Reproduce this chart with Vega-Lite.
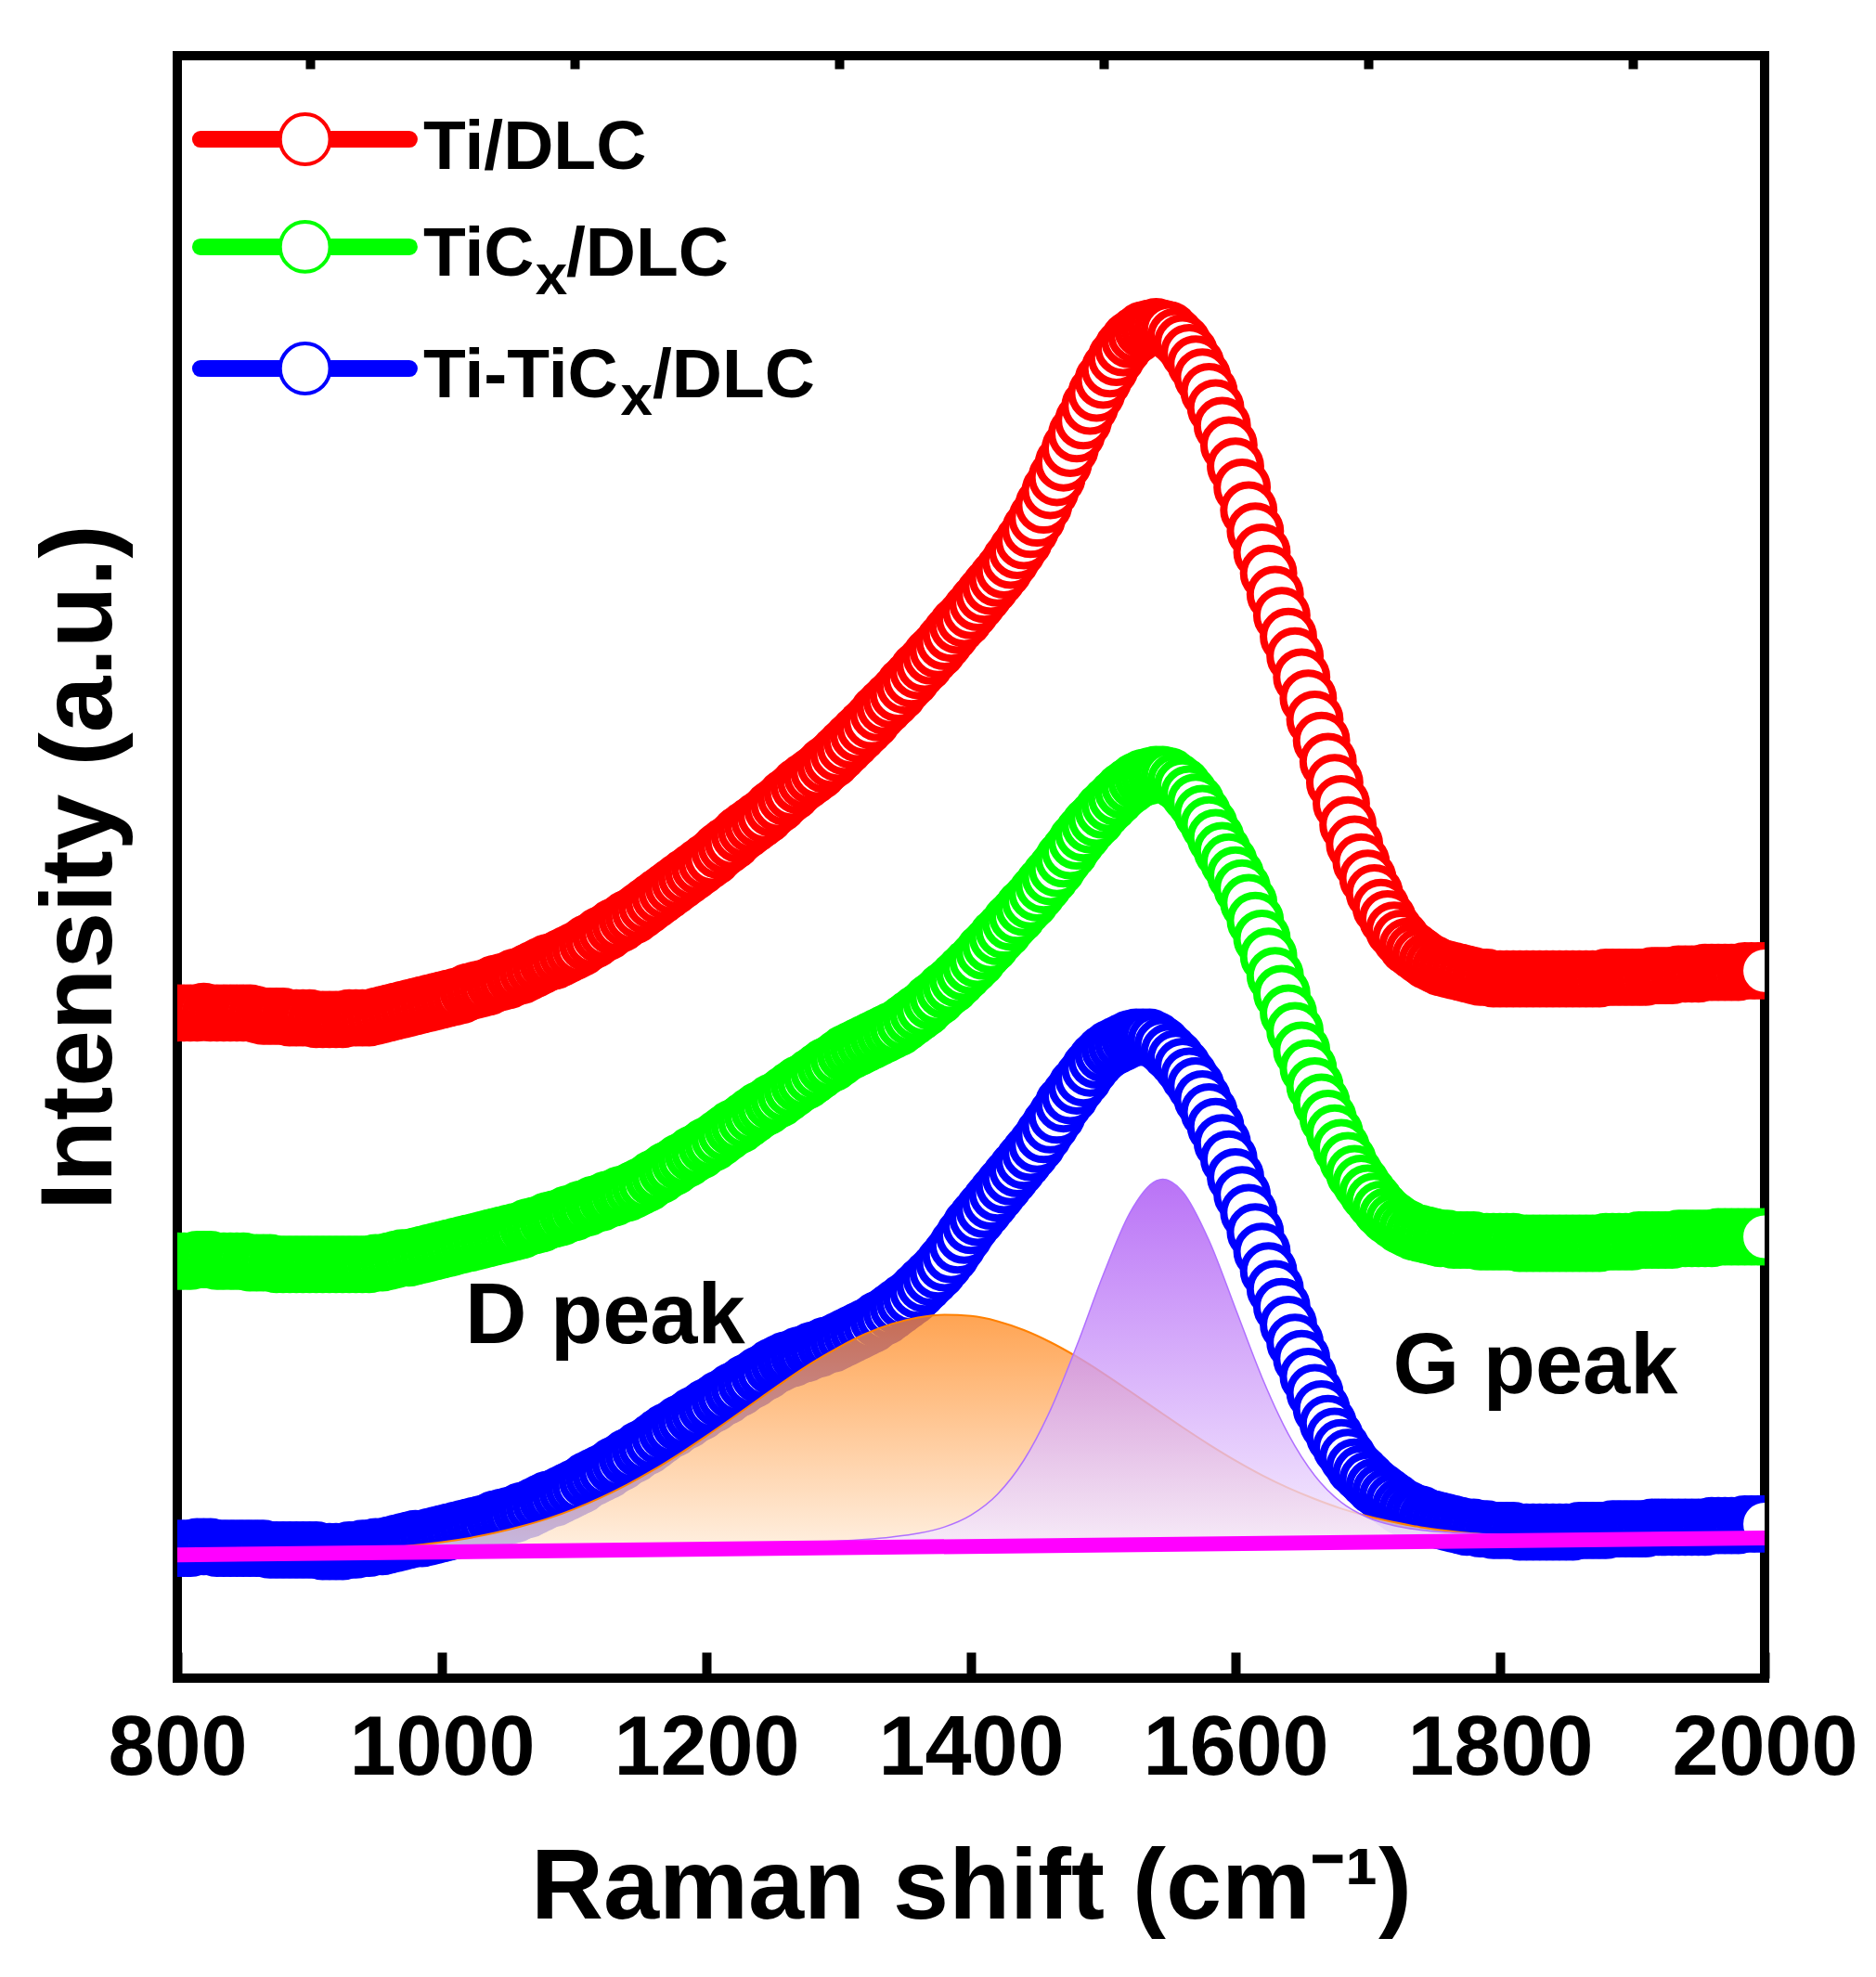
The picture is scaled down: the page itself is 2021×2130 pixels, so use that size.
{
  "$schema": "https://vega.github.io/schema/vega-lite/v6.json",
  "width": 1710,
  "height": 1748,
  "autosize": "none",
  "padding": {"left": 191, "top": 60, "right": 120, "bottom": 322},
  "background": "white",
  "config": {
    "view": {"stroke": "black", "strokeWidth": 10},
    "font": "Liberation Sans"
  },
  "datasets": {
    "red": [
      {"x":800,"y":41.0},{"x":805,"y":41.0},{"x":810,"y":41.0},{"x":815,"y":41.0},{"x":820,"y":41.1},{"x":825,"y":41.0},{"x":830,"y":41.0},{"x":835,"y":41.0},{"x":840,"y":41.0},{"x":845,"y":41.0},
      {"x":850,"y":41.0},{"x":855,"y":41.0},{"x":860,"y":40.9},{"x":865,"y":40.8},{"x":870,"y":40.8},{"x":875,"y":40.8},{"x":880,"y":40.8},{"x":885,"y":40.7},{"x":890,"y":40.7},{"x":895,"y":40.7},
      {"x":900,"y":40.7},{"x":905,"y":40.6},{"x":910,"y":40.6},{"x":915,"y":40.6},{"x":920,"y":40.6},{"x":925,"y":40.6},{"x":930,"y":40.7},{"x":935,"y":40.7},{"x":940,"y":40.7},{"x":945,"y":40.7},
      {"x":950,"y":40.8},{"x":955,"y":40.9},{"x":960,"y":41.0},{"x":965,"y":41.1},{"x":970,"y":41.2},{"x":975,"y":41.3},{"x":980,"y":41.4},{"x":985,"y":41.5},{"x":990,"y":41.6},{"x":995,"y":41.7},
      {"x":1000,"y":41.8},{"x":1005,"y":41.9},{"x":1010,"y":42.0},{"x":1015,"y":42.1},{"x":1020,"y":42.3},{"x":1025,"y":42.4},{"x":1030,"y":42.5},{"x":1035,"y":42.6},{"x":1040,"y":42.8},{"x":1045,"y":42.9},
      {"x":1050,"y":43.0},{"x":1055,"y":43.2},{"x":1060,"y":43.3},{"x":1065,"y":43.5},{"x":1070,"y":43.7},{"x":1075,"y":43.9},{"x":1080,"y":44.1},{"x":1085,"y":44.2},{"x":1090,"y":44.4},{"x":1095,"y":44.6},
      {"x":1100,"y":44.8},{"x":1105,"y":45.0},{"x":1110,"y":45.3},{"x":1115,"y":45.5},{"x":1120,"y":45.8},{"x":1125,"y":46.0},{"x":1130,"y":46.3},{"x":1135,"y":46.5},{"x":1140,"y":46.8},{"x":1145,"y":47.0},
      {"x":1150,"y":47.3},{"x":1155,"y":47.6},{"x":1160,"y":47.9},{"x":1165,"y":48.2},{"x":1170,"y":48.5},{"x":1175,"y":48.8},{"x":1180,"y":49.1},{"x":1185,"y":49.4},{"x":1190,"y":49.7},{"x":1195,"y":50.0},
      {"x":1200,"y":50.3},{"x":1205,"y":50.6},{"x":1210,"y":51.0},{"x":1215,"y":51.3},{"x":1220,"y":51.6},{"x":1225,"y":52.0},{"x":1230,"y":52.3},{"x":1235,"y":52.6},{"x":1240,"y":52.9},{"x":1245,"y":53.2},
      {"x":1250,"y":53.6},{"x":1255,"y":53.9},{"x":1260,"y":54.3},{"x":1265,"y":54.6},{"x":1270,"y":55.0},{"x":1275,"y":55.3},{"x":1280,"y":55.6},{"x":1285,"y":55.9},{"x":1290,"y":56.3},{"x":1295,"y":56.6},
      {"x":1300,"y":57.0},{"x":1305,"y":57.4},{"x":1310,"y":57.8},{"x":1315,"y":58.2},{"x":1320,"y":58.6},{"x":1325,"y":59.0},{"x":1330,"y":59.5},{"x":1335,"y":59.9},{"x":1340,"y":60.3},{"x":1345,"y":60.7},
      {"x":1350,"y":61.2},{"x":1355,"y":61.6},{"x":1360,"y":62.1},{"x":1365,"y":62.5},{"x":1370,"y":63.0},{"x":1375,"y":63.4},{"x":1380,"y":63.9},{"x":1385,"y":64.4},{"x":1390,"y":64.9},{"x":1395,"y":65.3},
      {"x":1400,"y":65.8},{"x":1405,"y":66.3},{"x":1410,"y":66.8},{"x":1415,"y":67.3},{"x":1420,"y":67.8},{"x":1425,"y":68.3},{"x":1430,"y":68.9},{"x":1435,"y":69.5},{"x":1440,"y":70.1},{"x":1445,"y":70.8},
      {"x":1450,"y":71.5},{"x":1455,"y":72.3},{"x":1460,"y":73.2},{"x":1465,"y":74.0},{"x":1470,"y":74.9},{"x":1475,"y":75.8},{"x":1480,"y":76.7},{"x":1485,"y":77.5},{"x":1490,"y":78.4},{"x":1495,"y":79.2},
      {"x":1500,"y":80.0},{"x":1505,"y":80.7},{"x":1510,"y":81.4},{"x":1515,"y":82.0},{"x":1520,"y":82.5},{"x":1525,"y":82.8},{"x":1530,"y":83.1},{"x":1535,"y":83.2},{"x":1540,"y":83.3},{"x":1545,"y":83.2},
      {"x":1550,"y":83.1},{"x":1555,"y":82.7},{"x":1560,"y":82.3},{"x":1565,"y":81.7},{"x":1570,"y":81.0},{"x":1575,"y":80.2},{"x":1580,"y":79.3},{"x":1585,"y":78.3},{"x":1590,"y":77.2},{"x":1595,"y":76.0},
      {"x":1600,"y":74.7},{"x":1605,"y":73.4},{"x":1610,"y":72.0},{"x":1615,"y":70.7},{"x":1620,"y":69.4},{"x":1625,"y":68.1},{"x":1630,"y":66.8},{"x":1635,"y":65.5},{"x":1640,"y":64.2},{"x":1645,"y":63.0},
      {"x":1650,"y":61.7},{"x":1655,"y":60.4},{"x":1660,"y":59.1},{"x":1665,"y":57.8},{"x":1670,"y":56.5},{"x":1675,"y":55.2},{"x":1680,"y":53.9},{"x":1685,"y":52.6},{"x":1690,"y":51.4},{"x":1695,"y":50.3},
      {"x":1700,"y":49.3},{"x":1705,"y":48.4},{"x":1710,"y":47.5},{"x":1715,"y":46.8},{"x":1720,"y":46.1},{"x":1725,"y":45.6},{"x":1730,"y":45.1},{"x":1735,"y":44.8},{"x":1740,"y":44.5},{"x":1745,"y":44.2},
      {"x":1750,"y":44.0},{"x":1755,"y":43.8},{"x":1760,"y":43.7},{"x":1765,"y":43.6},{"x":1770,"y":43.5},{"x":1775,"y":43.4},{"x":1780,"y":43.3},{"x":1785,"y":43.2},{"x":1790,"y":43.2},{"x":1795,"y":43.1},
      {"x":1800,"y":43.1},{"x":1805,"y":43.1},{"x":1810,"y":43.1},{"x":1815,"y":43.1},{"x":1820,"y":43.1},{"x":1825,"y":43.1},{"x":1830,"y":43.1},{"x":1835,"y":43.1},{"x":1840,"y":43.1},{"x":1845,"y":43.1},
      {"x":1850,"y":43.1},{"x":1855,"y":43.1},{"x":1860,"y":43.1},{"x":1865,"y":43.1},{"x":1870,"y":43.1},{"x":1875,"y":43.1},{"x":1880,"y":43.2},{"x":1885,"y":43.2},{"x":1890,"y":43.2},{"x":1895,"y":43.2},
      {"x":1900,"y":43.2},{"x":1905,"y":43.2},{"x":1910,"y":43.2},{"x":1915,"y":43.3},{"x":1920,"y":43.3},{"x":1925,"y":43.3},{"x":1930,"y":43.3},{"x":1935,"y":43.4},{"x":1940,"y":43.4},{"x":1945,"y":43.4},
      {"x":1950,"y":43.4},{"x":1955,"y":43.5},{"x":1960,"y":43.5},{"x":1965,"y":43.5},{"x":1970,"y":43.5},{"x":1975,"y":43.5},{"x":1980,"y":43.5},{"x":1985,"y":43.6},{"x":1990,"y":43.6},{"x":1995,"y":43.6},
      {"x":2000,"y":43.6}
    ],
    "green": [
      {"x":800,"y":25.7},{"x":805,"y":25.7},{"x":810,"y":25.7},{"x":815,"y":25.8},{"x":820,"y":25.8},{"x":825,"y":25.8},{"x":830,"y":25.7},{"x":835,"y":25.7},{"x":840,"y":25.7},{"x":845,"y":25.7},
      {"x":850,"y":25.7},{"x":855,"y":25.6},{"x":860,"y":25.6},{"x":865,"y":25.6},{"x":870,"y":25.6},{"x":875,"y":25.5},{"x":880,"y":25.5},{"x":885,"y":25.5},{"x":890,"y":25.5},{"x":895,"y":25.5},
      {"x":900,"y":25.5},{"x":905,"y":25.5},{"x":910,"y":25.5},{"x":915,"y":25.5},{"x":920,"y":25.5},{"x":925,"y":25.5},{"x":930,"y":25.5},{"x":935,"y":25.5},{"x":940,"y":25.5},{"x":945,"y":25.5},
      {"x":950,"y":25.6},{"x":955,"y":25.6},{"x":960,"y":25.7},{"x":965,"y":25.8},{"x":970,"y":25.9},{"x":975,"y":25.9},{"x":980,"y":26.0},{"x":985,"y":26.1},{"x":990,"y":26.2},{"x":995,"y":26.3},
      {"x":1000,"y":26.4},{"x":1005,"y":26.5},{"x":1010,"y":26.6},{"x":1015,"y":26.7},{"x":1020,"y":26.8},{"x":1025,"y":26.9},{"x":1030,"y":27.0},{"x":1035,"y":27.1},{"x":1040,"y":27.2},{"x":1045,"y":27.3},
      {"x":1050,"y":27.4},{"x":1055,"y":27.5},{"x":1060,"y":27.6},{"x":1065,"y":27.8},{"x":1070,"y":27.9},{"x":1075,"y":28.0},{"x":1080,"y":28.2},{"x":1085,"y":28.3},{"x":1090,"y":28.4},{"x":1095,"y":28.6},
      {"x":1100,"y":28.7},{"x":1105,"y":28.9},{"x":1110,"y":29.0},{"x":1115,"y":29.2},{"x":1120,"y":29.3},{"x":1125,"y":29.5},{"x":1130,"y":29.6},{"x":1135,"y":29.8},{"x":1140,"y":29.9},{"x":1145,"y":30.1},
      {"x":1150,"y":30.3},{"x":1155,"y":30.5},{"x":1160,"y":30.8},{"x":1165,"y":31.0},{"x":1170,"y":31.3},{"x":1175,"y":31.5},{"x":1180,"y":31.8},{"x":1185,"y":32.0},{"x":1190,"y":32.3},{"x":1195,"y":32.5},
      {"x":1200,"y":32.8},{"x":1205,"y":33.0},{"x":1210,"y":33.3},{"x":1215,"y":33.6},{"x":1220,"y":33.9},{"x":1225,"y":34.1},{"x":1230,"y":34.4},{"x":1235,"y":34.7},{"x":1240,"y":35.0},{"x":1245,"y":35.2},
      {"x":1250,"y":35.5},{"x":1255,"y":35.7},{"x":1260,"y":36.0},{"x":1265,"y":36.3},{"x":1270,"y":36.6},{"x":1275,"y":36.8},{"x":1280,"y":37.1},{"x":1285,"y":37.4},{"x":1290,"y":37.7},{"x":1295,"y":37.9},
      {"x":1300,"y":38.2},{"x":1305,"y":38.5},{"x":1310,"y":38.7},{"x":1315,"y":38.9},{"x":1320,"y":39.1},{"x":1325,"y":39.3},{"x":1330,"y":39.5},{"x":1335,"y":39.7},{"x":1340,"y":39.9},{"x":1345,"y":40.1},
      {"x":1350,"y":40.4},{"x":1355,"y":40.7},{"x":1360,"y":41.0},{"x":1365,"y":41.3},{"x":1370,"y":41.7},{"x":1375,"y":42.0},{"x":1380,"y":42.4},{"x":1385,"y":42.7},{"x":1390,"y":43.1},{"x":1395,"y":43.5},
      {"x":1400,"y":43.9},{"x":1405,"y":44.3},{"x":1410,"y":44.8},{"x":1415,"y":45.2},{"x":1420,"y":45.7},{"x":1425,"y":46.1},{"x":1430,"y":46.6},{"x":1435,"y":47.0},{"x":1440,"y":47.5},{"x":1445,"y":47.9},
      {"x":1450,"y":48.4},{"x":1455,"y":48.9},{"x":1460,"y":49.4},{"x":1465,"y":49.9},{"x":1470,"y":50.5},{"x":1475,"y":51.0},{"x":1480,"y":51.6},{"x":1485,"y":52.1},{"x":1490,"y":52.6},{"x":1495,"y":53.0},
      {"x":1500,"y":53.5},{"x":1505,"y":53.9},{"x":1510,"y":54.3},{"x":1515,"y":54.7},{"x":1520,"y":55.0},{"x":1525,"y":55.3},{"x":1530,"y":55.5},{"x":1535,"y":55.6},{"x":1540,"y":55.7},{"x":1545,"y":55.7},
      {"x":1550,"y":55.6},{"x":1555,"y":55.3},{"x":1560,"y":55.0},{"x":1565,"y":54.5},{"x":1570,"y":54.0},{"x":1575,"y":53.3},{"x":1580,"y":52.6},{"x":1585,"y":51.8},{"x":1590,"y":51.0},{"x":1595,"y":50.3},
      {"x":1600,"y":49.5},{"x":1605,"y":48.7},{"x":1610,"y":47.8},{"x":1615,"y":46.7},{"x":1620,"y":45.6},{"x":1625,"y":44.5},{"x":1630,"y":43.3},{"x":1635,"y":42.2},{"x":1640,"y":41.0},{"x":1645,"y":39.9},
      {"x":1650,"y":38.7},{"x":1655,"y":37.6},{"x":1660,"y":36.5},{"x":1665,"y":35.5},{"x":1670,"y":34.5},{"x":1675,"y":33.6},{"x":1680,"y":32.7},{"x":1685,"y":31.9},{"x":1690,"y":31.1},{"x":1695,"y":30.5},
      {"x":1700,"y":29.9},{"x":1705,"y":29.4},{"x":1710,"y":28.9},{"x":1715,"y":28.5},{"x":1720,"y":28.2},{"x":1725,"y":27.9},{"x":1730,"y":27.7},{"x":1735,"y":27.5},{"x":1740,"y":27.4},{"x":1745,"y":27.3},
      {"x":1750,"y":27.2},{"x":1755,"y":27.1},{"x":1760,"y":27.1},{"x":1765,"y":27.0},{"x":1770,"y":27.0},{"x":1775,"y":27.0},{"x":1780,"y":27.0},{"x":1785,"y":26.9},{"x":1790,"y":26.9},{"x":1795,"y":26.9},
      {"x":1800,"y":26.9},{"x":1805,"y":26.9},{"x":1810,"y":26.9},{"x":1815,"y":26.8},{"x":1820,"y":26.8},{"x":1825,"y":26.8},{"x":1830,"y":26.8},{"x":1835,"y":26.8},{"x":1840,"y":26.8},{"x":1845,"y":26.8},
      {"x":1850,"y":26.8},{"x":1855,"y":26.8},{"x":1860,"y":26.8},{"x":1865,"y":26.8},{"x":1870,"y":26.8},{"x":1875,"y":26.8},{"x":1880,"y":26.9},{"x":1885,"y":26.9},{"x":1890,"y":26.9},{"x":1895,"y":26.9},
      {"x":1900,"y":26.9},{"x":1905,"y":27.0},{"x":1910,"y":27.0},{"x":1915,"y":27.0},{"x":1920,"y":27.0},{"x":1925,"y":27.0},{"x":1930,"y":27.0},{"x":1935,"y":27.1},{"x":1940,"y":27.1},{"x":1945,"y":27.1},
      {"x":1950,"y":27.1},{"x":1955,"y":27.1},{"x":1960,"y":27.1},{"x":1965,"y":27.2},{"x":1970,"y":27.2},{"x":1975,"y":27.2},{"x":1980,"y":27.2},{"x":1985,"y":27.2},{"x":1990,"y":27.2},{"x":1995,"y":27.2},
      {"x":2000,"y":27.2}
    ],
    "blue": [
      {"x":800,"y":8.0},{"x":805,"y":8.0},{"x":810,"y":8.0},{"x":815,"y":8.1},{"x":820,"y":8.1},{"x":825,"y":8.1},{"x":830,"y":8.0},{"x":835,"y":8.0},{"x":840,"y":8.0},{"x":845,"y":8.0},
      {"x":850,"y":8.0},{"x":855,"y":8.0},{"x":860,"y":8.0},{"x":865,"y":8.0},{"x":870,"y":7.9},{"x":875,"y":7.9},{"x":880,"y":7.9},{"x":885,"y":7.9},{"x":890,"y":7.9},{"x":895,"y":7.9},
      {"x":900,"y":7.9},{"x":905,"y":7.9},{"x":910,"y":7.8},{"x":915,"y":7.8},{"x":920,"y":7.8},{"x":925,"y":7.8},{"x":930,"y":7.9},{"x":935,"y":7.9},{"x":940,"y":8.0},{"x":945,"y":8.0},
      {"x":950,"y":8.1},{"x":955,"y":8.1},{"x":960,"y":8.2},{"x":965,"y":8.3},{"x":970,"y":8.4},{"x":975,"y":8.5},{"x":980,"y":8.6},{"x":985,"y":8.6},{"x":990,"y":8.7},{"x":995,"y":8.8},
      {"x":1000,"y":8.9},{"x":1005,"y":9.0},{"x":1010,"y":9.1},{"x":1015,"y":9.2},{"x":1020,"y":9.3},{"x":1025,"y":9.4},{"x":1030,"y":9.5},{"x":1035,"y":9.6},{"x":1040,"y":9.8},{"x":1045,"y":9.9},
      {"x":1050,"y":10.0},{"x":1055,"y":10.1},{"x":1060,"y":10.3},{"x":1065,"y":10.4},{"x":1070,"y":10.6},{"x":1075,"y":10.8},{"x":1080,"y":11.0},{"x":1085,"y":11.1},{"x":1090,"y":11.3},{"x":1095,"y":11.5},
      {"x":1100,"y":11.7},{"x":1105,"y":11.9},{"x":1110,"y":12.2},{"x":1115,"y":12.4},{"x":1120,"y":12.6},{"x":1125,"y":12.8},{"x":1130,"y":13.1},{"x":1135,"y":13.3},{"x":1140,"y":13.6},{"x":1145,"y":13.8},
      {"x":1150,"y":14.1},{"x":1155,"y":14.3},{"x":1160,"y":14.6},{"x":1165,"y":14.9},{"x":1170,"y":15.2},{"x":1175,"y":15.4},{"x":1180,"y":15.7},{"x":1185,"y":15.9},{"x":1190,"y":16.2},{"x":1195,"y":16.4},
      {"x":1200,"y":16.7},{"x":1205,"y":16.9},{"x":1210,"y":17.2},{"x":1215,"y":17.4},{"x":1220,"y":17.7},{"x":1225,"y":17.9},{"x":1230,"y":18.2},{"x":1235,"y":18.4},{"x":1240,"y":18.7},{"x":1245,"y":18.9},
      {"x":1250,"y":19.2},{"x":1255,"y":19.4},{"x":1260,"y":19.6},{"x":1265,"y":19.7},{"x":1270,"y":19.9},{"x":1275,"y":20.0},{"x":1280,"y":20.2},{"x":1285,"y":20.3},{"x":1290,"y":20.5},{"x":1295,"y":20.6},
      {"x":1300,"y":20.8},{"x":1305,"y":21.0},{"x":1310,"y":21.2},{"x":1315,"y":21.4},{"x":1320,"y":21.6},{"x":1325,"y":21.8},{"x":1330,"y":22.1},{"x":1335,"y":22.3},{"x":1340,"y":22.6},{"x":1345,"y":22.9},
      {"x":1350,"y":23.2},{"x":1355,"y":23.5},{"x":1360,"y":23.9},{"x":1365,"y":24.3},{"x":1370,"y":24.7},{"x":1375,"y":25.1},{"x":1380,"y":25.6},{"x":1385,"y":26.1},{"x":1390,"y":26.7},{"x":1395,"y":27.3},
      {"x":1400,"y":27.9},{"x":1405,"y":28.4},{"x":1410,"y":28.9},{"x":1415,"y":29.4},{"x":1420,"y":29.9},{"x":1425,"y":30.4},{"x":1430,"y":30.9},{"x":1435,"y":31.4},{"x":1440,"y":31.9},{"x":1445,"y":32.4},
      {"x":1450,"y":32.9},{"x":1455,"y":33.5},{"x":1460,"y":34.1},{"x":1465,"y":34.7},{"x":1470,"y":35.4},{"x":1475,"y":35.9},{"x":1480,"y":36.5},{"x":1485,"y":37.0},{"x":1490,"y":37.6},{"x":1495,"y":38.1},
      {"x":1500,"y":38.5},{"x":1505,"y":38.8},{"x":1510,"y":39.0},{"x":1515,"y":39.2},{"x":1520,"y":39.4},{"x":1525,"y":39.5},{"x":1530,"y":39.5},{"x":1535,"y":39.5},{"x":1540,"y":39.3},{"x":1545,"y":39.0},
      {"x":1550,"y":38.6},{"x":1555,"y":38.2},{"x":1560,"y":37.7},{"x":1565,"y":37.1},{"x":1570,"y":36.5},{"x":1575,"y":35.7},{"x":1580,"y":34.9},{"x":1585,"y":34.0},{"x":1590,"y":33.0},{"x":1595,"y":32.0},
      {"x":1600,"y":30.9},{"x":1605,"y":29.8},{"x":1610,"y":28.7},{"x":1615,"y":27.5},{"x":1620,"y":26.3},{"x":1625,"y":25.1},{"x":1630,"y":24.0},{"x":1635,"y":22.9},{"x":1640,"y":21.8},{"x":1645,"y":20.7},
      {"x":1650,"y":19.7},{"x":1655,"y":18.6},{"x":1660,"y":17.6},{"x":1665,"y":16.6},{"x":1670,"y":15.7},{"x":1675,"y":14.9},{"x":1680,"y":14.2},{"x":1685,"y":13.6},{"x":1690,"y":13.0},{"x":1695,"y":12.6},
      {"x":1700,"y":12.2},{"x":1705,"y":11.8},{"x":1710,"y":11.5},{"x":1715,"y":11.2},{"x":1720,"y":10.9},{"x":1725,"y":10.6},{"x":1730,"y":10.4},{"x":1735,"y":10.2},{"x":1740,"y":10.1},{"x":1745,"y":9.9},
      {"x":1750,"y":9.8},{"x":1755,"y":9.7},{"x":1760,"y":9.6},{"x":1765,"y":9.5},{"x":1770,"y":9.4},{"x":1775,"y":9.3},{"x":1780,"y":9.3},{"x":1785,"y":9.2},{"x":1790,"y":9.2},{"x":1795,"y":9.1},
      {"x":1800,"y":9.1},{"x":1805,"y":9.1},{"x":1810,"y":9.1},{"x":1815,"y":9.0},{"x":1820,"y":9.0},{"x":1825,"y":9.0},{"x":1830,"y":9.0},{"x":1835,"y":9.0},{"x":1840,"y":9.0},{"x":1845,"y":9.0},
      {"x":1850,"y":9.0},{"x":1855,"y":9.0},{"x":1860,"y":9.1},{"x":1865,"y":9.1},{"x":1870,"y":9.1},{"x":1875,"y":9.1},{"x":1880,"y":9.1},{"x":1885,"y":9.2},{"x":1890,"y":9.2},{"x":1895,"y":9.2},
      {"x":1900,"y":9.2},{"x":1905,"y":9.2},{"x":1910,"y":9.2},{"x":1915,"y":9.3},{"x":1920,"y":9.3},{"x":1925,"y":9.3},{"x":1930,"y":9.3},{"x":1935,"y":9.3},{"x":1940,"y":9.3},{"x":1945,"y":9.3},
      {"x":1950,"y":9.3},{"x":1955,"y":9.3},{"x":1960,"y":9.4},{"x":1965,"y":9.4},{"x":1970,"y":9.4},{"x":1975,"y":9.4},{"x":1980,"y":9.4},{"x":1985,"y":9.5},{"x":1990,"y":9.5},{"x":1995,"y":9.5},
      {"x":2000,"y":9.5}
    ],
    "dpeak": [
      {"x":800,"y":7.61,"lo":7.60},{"x":820,"y":7.64,"lo":7.62},{"x":840,"y":7.66,"lo":7.63},{"x":860,"y":7.69,"lo":7.65},{"x":880,"y":7.73,"lo":7.67},
      {"x":900,"y":7.78,"lo":7.69},{"x":920,"y":7.84,"lo":7.70},{"x":940,"y":7.93,"lo":7.72},{"x":960,"y":8.04,"lo":7.74},{"x":980,"y":8.19,"lo":7.76},
      {"x":1000,"y":8.38,"lo":7.77},{"x":1020,"y":8.63,"lo":7.79},{"x":1040,"y":8.95,"lo":7.81},{"x":1060,"y":9.35,"lo":7.83},{"x":1080,"y":9.83,"lo":7.84},
      {"x":1100,"y":10.42,"lo":7.86},{"x":1120,"y":11.12,"lo":7.88},{"x":1140,"y":11.92,"lo":7.89},{"x":1160,"y":12.83,"lo":7.91},{"x":1180,"y":13.84,"lo":7.93},
      {"x":1200,"y":14.93,"lo":7.95},{"x":1220,"y":16.06,"lo":7.96},{"x":1240,"y":17.22,"lo":7.98},{"x":1260,"y":18.36,"lo":8.00},{"x":1280,"y":19.44,"lo":8.02},
      {"x":1300,"y":20.39,"lo":8.03},{"x":1320,"y":21.21,"lo":8.05},{"x":1340,"y":21.83,"lo":8.07},{"x":1360,"y":22.23,"lo":8.08},{"x":1380,"y":22.40,"lo":8.10},
      {"x":1400,"y":22.32,"lo":8.12},{"x":1420,"y":22.00,"lo":8.14},{"x":1440,"y":21.45,"lo":8.15},{"x":1460,"y":20.71,"lo":8.17},{"x":1480,"y":19.81,"lo":8.19},
      {"x":1500,"y":18.79,"lo":8.21},{"x":1520,"y":17.69,"lo":8.22},{"x":1540,"y":16.57,"lo":8.24},{"x":1560,"y":15.46,"lo":8.26},{"x":1580,"y":14.40,"lo":8.28},
      {"x":1600,"y":13.41,"lo":8.29},{"x":1620,"y":12.51,"lo":8.31},{"x":1640,"y":11.72,"lo":8.33},{"x":1660,"y":11.04,"lo":8.35},{"x":1680,"y":10.45,"lo":8.36},
      {"x":1700,"y":9.98,"lo":8.38},{"x":1720,"y":9.61,"lo":8.40},{"x":1740,"y":9.30,"lo":8.41},{"x":1760,"y":9.08,"lo":8.43},{"x":1780,"y":8.91,"lo":8.45},
      {"x":1800,"y":8.80,"lo":8.47},{"x":1820,"y":8.70,"lo":8.48},{"x":1840,"y":8.65,"lo":8.50},{"x":1860,"y":8.62,"lo":8.52},{"x":1880,"y":8.61,"lo":8.54},
      {"x":1900,"y":8.59,"lo":8.55},{"x":1920,"y":8.60,"lo":8.57},{"x":1940,"y":8.61,"lo":8.59},{"x":1960,"y":8.62,"lo":8.61},{"x":1980,"y":8.63,"lo":8.62},
      {"x":2000,"y":8.64,"lo":8.64}
    ],
    "gpeak": [
      {"x":800,"y":7.65,"lo":7.60},{"x":900,"y":7.76,"lo":7.69},{"x":1000,"y":7.86,"lo":7.77},{"x":1100,"y":8.00,"lo":7.86},{"x":1200,"y":8.17,"lo":7.95},
      {"x":1240,"y":8.26,"lo":7.98},{"x":1280,"y":8.39,"lo":8.02},{"x":1300,"y":8.45,"lo":8.03},{"x":1320,"y":8.55,"lo":8.05},{"x":1340,"y":8.70,"lo":8.07},
      {"x":1360,"y":8.92,"lo":8.08},{"x":1380,"y":9.32,"lo":8.10},{"x":1400,"y":10.05,"lo":8.12},{"x":1420,"y":11.33,"lo":8.14},{"x":1440,"y":13.43,"lo":8.15},
      {"x":1460,"y":16.51,"lo":8.17},{"x":1480,"y":20.49,"lo":8.19},{"x":1500,"y":24.86,"lo":8.21},{"x":1520,"y":28.66,"lo":8.22},{"x":1540,"y":30.65,"lo":8.24},
      {"x":1545,"y":30.75,"lo":8.25},{"x":1560,"y":29.98,"lo":8.26},{"x":1580,"y":26.97,"lo":8.28},{"x":1600,"y":22.77,"lo":8.29},{"x":1620,"y":18.54,"lo":8.31},
      {"x":1640,"y":15.02,"lo":8.33},{"x":1660,"y":12.47,"lo":8.35},{"x":1680,"y":10.83,"lo":8.36},{"x":1700,"y":9.90,"lo":8.38},{"x":1720,"y":9.40,"lo":8.40},
      {"x":1740,"y":9.13,"lo":8.41},{"x":1760,"y":8.99,"lo":8.43},{"x":1780,"y":8.91,"lo":8.45},{"x":1800,"y":8.87,"lo":8.47},{"x":1840,"y":8.80,"lo":8.50},
      {"x":1900,"y":8.76,"lo":8.55},{"x":2000,"y":8.77,"lo":8.64}
    ],
    "base": [
      {"x":800,"y":7.6},{"x":2000,"y":8.64}
    ],
    "keyline": [
      {"k":"Ti/DLC","x":817.5,"y":94.85},{"k":"Ti/DLC","x":975.4,"y":94.85},
      {"k":"TiCx/DLC","x":817.5,"y":88.22},{"k":"TiCx/DLC","x":975.4,"y":88.22},
      {"k":"Ti-TiCx/DLC","x":817.5,"y":80.72},{"k":"Ti-TiCx/DLC","x":975.4,"y":80.72}
    ],
    "keydot": [
      {"k":"Ti/DLC","x":896.6,"y":94.85},
      {"k":"TiCx/DLC","x":896.6,"y":88.22},
      {"k":"Ti-TiCx/DLC","x":896.6,"y":80.72}
    ],
    "legtext": [
      {"t":"Ti/DLC","x":986,"y":93.02},
      {"t":"TiC","x":986,"y":86.43},
      {"t":"/DLC","x":1094,"y":86.43},
      {"t":"Ti-TiC","x":986,"y":78.93},
      {"t":"/DLC","x":1159.3,"y":78.93}
    ],
    "legsub": [
      {"t":"x","x":1070.7,"y":85.3},
      {"t":"x","x":1135.1,"y":77.85}
    ],
    "notes": [
      {"t":"D peak","x":1017.5,"y":20.65},
      {"t":"G peak","x":1719,"y":17.56}
    ]
  },
  "encoding": {
    "x": {"field": "x", "type": "quantitative", "scale": {"domain": [800, 2000], "nice": false, "zero": false}, "axis": null},
    "y": {"field": "y", "type": "quantitative", "scale": {"domain": [0, 100], "nice": false, "zero": false}, "axis": null}
  },
  "layer": [
    {
      "data": {"name": "red"},
      "mark": {"type": "point", "shape": "circle", "size": 2900, "filled": true, "fill": "white", "stroke": "#ff0000", "strokeWidth": 8, "opacity": 1, "clip": true},
      "encoding": {
        "x": {
          "field": "x", "type": "quantitative",
          "scale": {"domain": [800, 2000], "nice": false, "zero": false},
          "axis": {
            "values": [800, 1000, 1200, 1400, 1600, 1800, 2000],
            "format": "d",
            "domain": false, "grid": false,
            "ticks": true, "tickSize": -28, "tickWidth": 10, "tickColor": "black",
            "labelFont": "Liberation Sans", "labelFontSize": 90, "labelFontWeight": "bold", "labelColor": "black",
            "labelPadding": 60, "labelBaseline": "top", "labelFlush": false, "labelOverlap": false, "labelLimit": 1000,
            "title": "Raman shift (cm⁻¹)",
            "titleFont": "Liberation Sans", "titleFontSize": 108, "titleFontWeight": "bold", "titleColor": "black",
            "titleBaseline": "alphabetic", "titleY": 258
          }
        }
      }
    },
    {
      "data": {"name": "green"},
      "mark": {"type": "point", "shape": "circle", "size": 2900, "filled": true, "fill": "white", "stroke": "#00ff00", "strokeWidth": 8, "opacity": 1, "clip": true},
      "encoding": {
        "x": {
          "field": "x", "type": "quantitative",
          "scale": {"domain": [800, 2000], "nice": false, "zero": false},
          "axis": {
            "values": [900, 1100, 1300, 1500, 1700, 1900],
            "domain": false, "grid": false, "labels": false, "title": null,
            "ticks": true, "tickSize": -14, "tickWidth": 10, "tickColor": "black"
          }
        }
      }
    },
    {
      "data": {"name": "blue"},
      "mark": {"type": "point", "shape": "circle", "size": 2900, "filled": true, "fill": "white", "stroke": "#0000ff", "strokeWidth": 8, "opacity": 1, "clip": true},
      "encoding": {
        "y": {
          "field": "y", "type": "quantitative",
          "scale": {"domain": [0, 100], "nice": false, "zero": false},
          "axis": {
            "domain": false, "ticks": false, "labels": false, "grid": false,
            "title": "Intensity (a.u.)",
            "titleFont": "Liberation Sans", "titleFontSize": 109, "titleFontWeight": "bold", "titleColor": "black",
            "titleAngle": -90, "titleBaseline": "alphabetic", "titleX": -72
          }
        }
      }
    },
    {
      "data": {"name": "dpeak"},
      "mark": {
        "type": "area", "interpolate": "monotone", "fillOpacity": 0.78, "clip": true,
        "color": {"gradient": "linear", "x1": 0, "y1": 0, "x2": 0, "y2": 1,
          "stops": [{"offset": 0, "color": "#ff8a22"}, {"offset": 1, "color": "#ffeedd"}]},
        "line": {"color": "#ff8000", "strokeWidth": 2}
      },
      "encoding": {"y2": {"field": "lo"}}
    },
    {
      "data": {"name": "gpeak"},
      "mark": {
        "type": "area", "interpolate": "monotone", "fillOpacity": 0.78, "clip": true,
        "color": {"gradient": "linear", "x1": 0, "y1": 0, "x2": 0, "y2": 1,
          "stops": [{"offset": 0, "color": "#a64bf4"}, {"offset": 1, "color": "#f6eeff"}]},
        "line": {"color": "#b070ff", "strokeWidth": 1.5}
      },
      "encoding": {"y2": {"field": "lo"}}
    },
    {
      "data": {"name": "base"},
      "mark": {"type": "line", "color": "#ff00ff", "strokeWidth": 16, "clip": true},
      "encoding": {}
    },
    {
      "data": {"name": "keyline"},
      "mark": {"type": "line", "strokeWidth": 18, "strokeCap": "round"},
      "encoding": {
        "color": {"field": "k", "type": "nominal", "legend": null,
          "scale": {"domain": ["Ti/DLC", "TiCx/DLC", "Ti-TiCx/DLC"], "range": ["#ff0000", "#00ff00", "#0000ff"]}}
      }
    },
    {
      "data": {"name": "keydot"},
      "mark": {"type": "point", "shape": "circle", "size": 2900, "filled": true, "fill": "white", "strokeWidth": 4, "opacity": 1},
      "encoding": {
        "stroke": {"field": "k", "type": "nominal", "legend": null,
          "scale": {"domain": ["Ti/DLC", "TiCx/DLC", "Ti-TiCx/DLC"], "range": ["#ff0000", "#00ff00", "#0000ff"]}}
      }
    },
    {
      "data": {"name": "legtext"},
      "mark": {"type": "text", "align": "left", "baseline": "alphabetic", "font": "Liberation Sans", "fontWeight": "bold", "fontSize": 75, "color": "black"},
      "encoding": {"text": {"field": "t"}}
    },
    {
      "data": {"name": "legsub"},
      "mark": {"type": "text", "align": "left", "baseline": "alphabetic", "font": "Liberation Sans", "fontWeight": "bold", "fontSize": 62, "color": "black"},
      "encoding": {"text": {"field": "t"}}
    },
    {
      "data": {"name": "notes"},
      "mark": {"type": "text", "align": "left", "baseline": "alphabetic", "font": "Liberation Sans", "fontWeight": "bold", "fontSize": 92, "color": "black"},
      "encoding": {"text": {"field": "t"}}
    }
  ],
  "resolve": {"axis": {"x": "independent", "y": "independent"}}
}
